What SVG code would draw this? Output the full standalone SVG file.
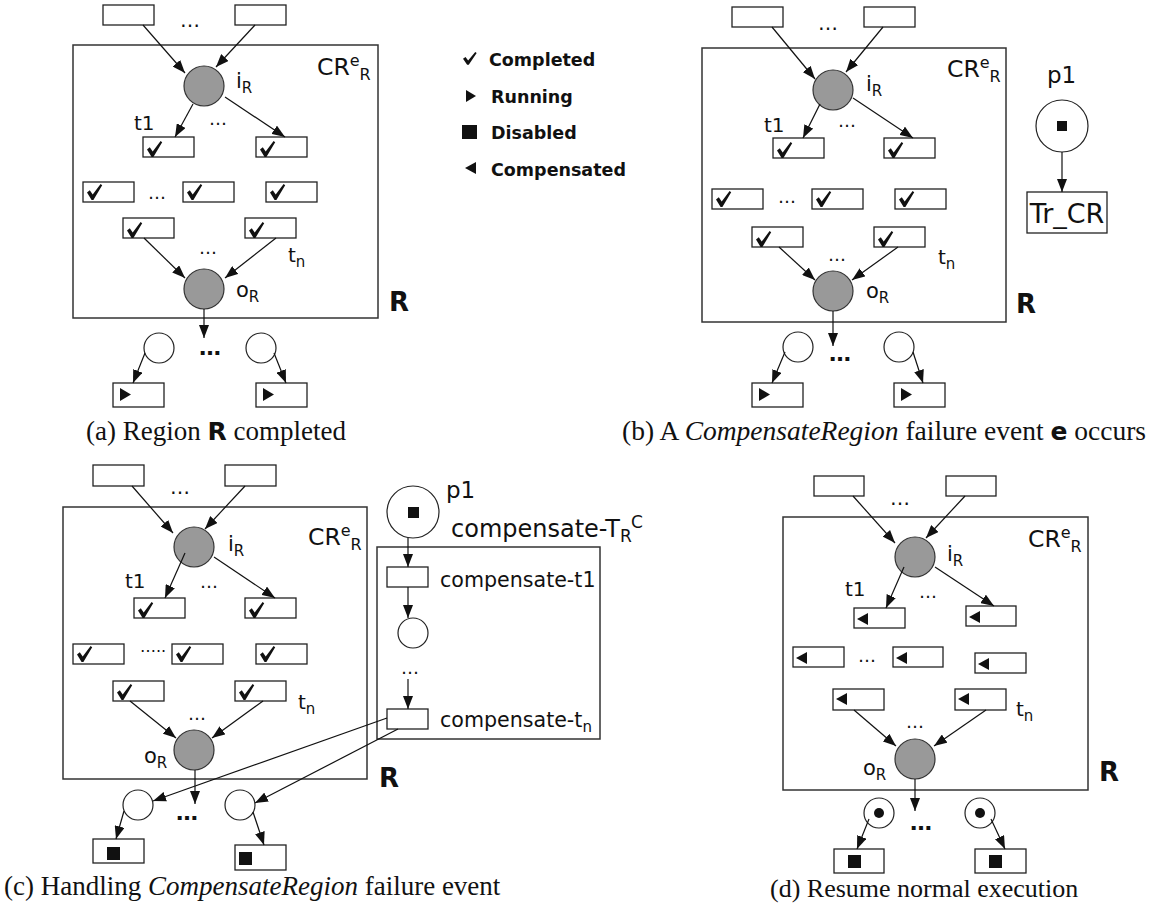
<svg xmlns="http://www.w3.org/2000/svg" xmlns:xlink="http://www.w3.org/1999/xlink" width="1156" height="914" viewBox="0 0 1156 914">
<style>
.bx{fill:#fff;stroke:#222;stroke-width:1.3}
.rg{fill:none;stroke:#333;stroke-width:1.5}
.pl{fill:#fff;stroke:#222;stroke-width:1.2}
.gp{fill:#999;stroke:#333;stroke-width:1.2}
.ar{stroke:#111;stroke-width:1.2;fill:none;marker-end:url(#ah)}
.t{font-family:"DejaVu Sans",Verdana,sans-serif;font-size:20px;fill:#111}
.s{font-size:15px}
.cr{font-size:23.5px}
.crs{font-size:16px}
.lab{font-size:21px}
.dots{font-family:"DejaVu Sans",sans-serif;font-size:20px;fill:#111;text-anchor:middle}
.dm{font-size:18px}
.db{font-size:22px;font-weight:bold}
.big{font-family:"DejaVu Sans",sans-serif;font-size:26px;font-weight:bold;fill:#111}
.lg{font-family:"DejaVu Sans",sans-serif;font-size:17.5px;font-weight:bold;fill:#111}
.cap{font-family:"Liberation Serif","Times New Roman",serif;font-size:27px;fill:#111}
.capb{font-family:"DejaVu Sans",sans-serif;font-weight:bold;font-size:25px}
</style>
<defs>
<marker id="ah" markerUnits="userSpaceOnUse" markerWidth="13" markerHeight="10" refX="13" refY="5" orient="auto">
<path d="M0,0 L13,5 L0,10 Z" fill="#111"/>
</marker>
<path id="chk" d="M0,8.5 L2.8,6.3 L5.7,10.6 L13.6,0 L15.2,1.3 L6.4,16 L4.6,16 Z" fill="#111"/>
<path id="run" d="M0,0 L11,6.5 L0,13 Z" fill="#111"/>
<path id="cmp" d="M0,6 L11,0 L11,12 Z" fill="#111"/>
<rect id="dis" width="13" height="13" fill="#111"/>
</defs>

<!-- Legend -->
<g id="legend">
<use xlink:href="#chk" transform="translate(463,52) scale(0.9,0.8)"/>
<text class="lg" x="489" y="66">Completed</text>
<path d="M466,90 L476,96 L466,102 Z" fill="#111"/>
<text class="lg" x="491" y="103">Running</text>
<rect x="462" y="125" width="15" height="14" fill="#111"/>
<text class="lg" x="491" y="139">Disabled</text>
<path d="M465,168 L476,162 L476,174 Z" fill="#111"/>
<text class="lg" x="491" y="176">Compensated</text>
</g>

<!-- ============ Panel (a) ============ -->
<g id="panel-a">
<g id="a-region"><rect class="rg" x="73" y="45" width="305" height="273"/>
<text class="t cr" x="317" y="75">CR<tspan class="crs" dy="-9">e</tspan><tspan class="crs" dy="14">R</tspan></text>
<text class="big" x="389" y="311">R</text></g>
<g id="a-in1"><rect class="bx" x="103" y="5" width="51" height="20"/></g>
<g id="a-in2"><rect class="bx" x="235" y="5" width="51" height="20"/></g>
<text class="dots" x="190" y="27">…</text>
<g id="a-iR"><circle class="gp" cx="204" cy="86" r="20"/><text class="t lab" x="236" y="88">i<tspan class="s" dy="5">R</tspan></text></g>
<text class="t" x="134" y="130">t1</text>
<text class="dots dm" x="218" y="125">…</text>
<g id="a-t1"><rect class="bx" x="143" y="137" width="51" height="20"/><use xlink:href="#chk" x="147" y="141"/></g>
<g id="a-t2"><rect class="bx" x="256" y="137" width="51" height="20"/><use xlink:href="#chk" x="260" y="141"/></g>
<g id="a-t3"><rect class="bx" x="83" y="182" width="51" height="20"/><use xlink:href="#chk" x="87" y="184"/></g>
<text class="dots dm" x="157" y="199">…</text>
<g id="a-t4"><rect class="bx" x="183" y="182" width="51" height="20"/><use xlink:href="#chk" x="187" y="184"/></g>
<g id="a-t5"><rect class="bx" x="266" y="182" width="51" height="20"/><use xlink:href="#chk" x="270" y="184"/></g>
<g id="a-t6"><rect class="bx" x="123" y="218" width="51" height="20"/><use xlink:href="#chk" x="127" y="222"/></g>
<g id="a-tn"><rect class="bx" x="245" y="218" width="51" height="20"/><use xlink:href="#chk" x="249" y="222"/></g>
<text class="dots dm" x="208" y="254">…</text>
<text class="t" x="288" y="262">t<tspan class="s" dy="5">n</tspan></text>
<g id="a-oR"><circle class="gp" cx="204" cy="289" r="20"/><text class="t lab" x="236" y="297">o<tspan class="s" dy="5">R</tspan></text></g>
<g id="a-p1"><circle class="pl" cx="159" cy="348" r="15"/></g>
<g id="a-p2"><circle class="pl" cx="261" cy="348" r="15"/></g>
<text class="dots db" x="210" y="355">…</text>
<g id="a-o1"><rect class="bx" x="113" y="383" width="51" height="24"/><use xlink:href="#run" x="120" y="388"/></g>
<g id="a-o2"><rect class="bx" x="256" y="383" width="51" height="24"/><use xlink:href="#run" x="263" y="388"/></g>
<text class="cap" x="86" y="440">(a) Region <tspan class="capb">R</tspan> completed</text>
</g>

<!-- ============ Panel (b) ============ -->
<g id="panel-b">
<g id="b-region"><rect class="rg" x="702" y="48" width="304" height="274"/>
<text class="t cr" x="947" y="77">CR<tspan class="crs" dy="-9">e</tspan><tspan class="crs" dy="14">R</tspan></text>
<text class="big" x="1016" y="313">R</text></g>
<g id="b-in1"><rect class="bx" x="732" y="7" width="51" height="20"/></g>
<g id="b-in2"><rect class="bx" x="864" y="7" width="51" height="20"/></g>
<text class="dots" x="828" y="30">…</text>
<g id="b-iR"><circle class="gp" cx="833" cy="90" r="20"/><text class="t lab" x="866" y="91">i<tspan class="s" dy="5">R</tspan></text></g>
<text class="t" x="764" y="132">t1</text>
<text class="dots dm" x="847" y="127">…</text>
<g id="b-t1"><rect class="bx" x="773" y="138" width="51" height="20"/><use xlink:href="#chk" x="777" y="142"/></g>
<g id="b-t2"><rect class="bx" x="884" y="138" width="51" height="20"/><use xlink:href="#chk" x="888" y="142"/></g>
<g id="b-t3"><rect class="bx" x="712" y="189" width="51" height="20"/><use xlink:href="#chk" x="716" y="191"/></g>
<text class="dots dm" x="787" y="203">…</text>
<g id="b-t4"><rect class="bx" x="812" y="189" width="51" height="20"/><use xlink:href="#chk" x="816" y="191"/></g>
<g id="b-t5"><rect class="bx" x="895" y="189" width="51" height="20"/><use xlink:href="#chk" x="899" y="191"/></g>
<g id="b-t6"><rect class="bx" x="752" y="227" width="51" height="20"/><use xlink:href="#chk" x="756" y="231"/></g>
<g id="b-tn"><rect class="bx" x="874" y="227" width="51" height="20"/><use xlink:href="#chk" x="878" y="231"/></g>
<text class="dots dm" x="837" y="261">…</text>
<text class="t" x="938" y="264">t<tspan class="s" dy="5">n</tspan></text>
<g id="b-oR"><circle class="gp" cx="833" cy="291" r="20"/><text class="t lab" x="866" y="298">o<tspan class="s" dy="5">R</tspan></text></g>
<g id="b-p1"><circle class="pl" cx="798" cy="347" r="15"/></g>
<g id="b-p2"><circle class="pl" cx="899" cy="347" r="15"/></g>
<text class="dots db" x="840" y="361">…</text>
<g id="b-o1"><rect class="bx" x="752" y="383" width="51" height="24"/><use xlink:href="#run" x="759" y="388"/></g>
<g id="b-o2"><rect class="bx" x="894" y="383" width="51" height="24"/><use xlink:href="#run" x="901" y="388"/></g>
<g id="b-pp1"><text class="t" x="1047" y="83" style="font-size:23px">p1</text><circle class="pl" cx="1062" cy="126" r="26"/><rect x="1057" y="121" width="10" height="10" fill="#111"/></g>
<g id="b-trcr"><rect class="bx" x="1027" y="192" width="80" height="41"/><text class="t" x="1067" y="223" style="font-size:27px" text-anchor="middle">Tr_CR</text></g>
<text class="cap" x="622" y="440" style="font-size:27.5px">(b) A <tspan font-style="italic">CompensateRegion</tspan> failure event <tspan class="capb">e</tspan> occurs</text>
</g>

<!-- ============ Panel (c) ============ -->
<g id="panel-c">
<g id="c-region"><rect class="rg" x="63" y="507" width="304" height="272"/>
<text class="t cr" x="308" y="545">CR<tspan class="crs" dy="-9">e</tspan><tspan class="crs" dy="14">R</tspan></text>
<text class="big" x="379" y="787">R</text></g>
<g id="c-in1"><rect class="bx" x="93" y="465" width="51" height="21"/></g>
<g id="c-in2"><rect class="bx" x="225" y="465" width="51" height="21"/></g>
<text class="dots" x="180" y="494">…</text>
<g id="c-iR"><circle class="gp" cx="194" cy="547" r="20"/><text class="t lab" x="228" y="551">i<tspan class="s" dy="5">R</tspan></text></g>
<text class="t" x="125" y="588">t1</text>
<text class="dots dm" x="209" y="588">…</text>
<g id="c-t1"><rect class="bx" x="134" y="598" width="51" height="20"/><use xlink:href="#chk" x="138" y="602"/></g>
<g id="c-t2"><rect class="bx" x="245" y="598" width="51" height="20"/><use xlink:href="#chk" x="249" y="602"/></g>
<g id="c-t3"><rect class="bx" x="73" y="644" width="51" height="20"/><use xlink:href="#chk" x="77" y="646"/></g>
<text class="dots" x="153" y="652" style="font-size:16px">…..</text>
<g id="c-t4"><rect class="bx" x="172" y="644" width="51" height="20"/><use xlink:href="#chk" x="176" y="646"/></g>
<g id="c-t5"><rect class="bx" x="256" y="644" width="51" height="20"/><use xlink:href="#chk" x="260" y="646"/></g>
<g id="c-t6"><rect class="bx" x="113" y="681" width="51" height="20"/><use xlink:href="#chk" x="117" y="684"/></g>
<g id="c-tn"><rect class="bx" x="235" y="681" width="51" height="20"/><use xlink:href="#chk" x="239" y="684"/></g>
<text class="dots dm" x="197" y="720">…</text>
<text class="t" x="298" y="709">t<tspan class="s" dy="5">n</tspan></text>
<g id="c-oR"><circle class="gp" cx="194" cy="750" r="20"/><text class="t lab" x="144" y="763">o<tspan class="s" dy="5">R</tspan></text></g>
<g id="c-p1"><circle class="pl" cx="138" cy="805" r="15"/></g>
<g id="c-p2"><circle class="pl" cx="240" cy="805" r="15"/></g>
<text class="dots db" x="187" y="820">…</text>
<g id="c-o1"><rect class="bx" x="93" y="839" width="51" height="24"/><use xlink:href="#dis" x="107" y="847"/></g>
<g id="c-o2"><rect class="bx" x="235" y="845" width="51" height="25"/><use xlink:href="#dis" x="239" y="852"/></g>
<g id="c-pp1"><text class="t" x="446" y="498" style="font-size:23px">p1</text><circle class="pl" cx="413" cy="512" r="26"/><rect x="408" y="507" width="11" height="11" fill="#111"/></g>
<g id="c-comp"><rect class="rg" x="377" y="547" width="223" height="192"/>
<text class="t" x="451" y="537" style="font-size:24px">compensate-T<tspan style="font-size:17px" dy="5">R</tspan><tspan style="font-size:17px" dy="-14">C</tspan></text></g>
<g id="c-ct1"><rect class="bx" x="387" y="567" width="41" height="20"/><text class="t" x="440" y="587" style="font-size:20.6px">compensate-t1</text></g>
<g id="c-cp"><circle class="pl" cx="413" cy="633" r="15"/></g>
<text class="dots dm" x="410" y="674">…</text>
<g id="c-ctn"><rect class="bx" x="387" y="709" width="41" height="20"/><text class="t" x="440" y="727" style="font-size:20.6px">compensate-t<tspan class="s" dy="5">n</tspan></text></g>
<text class="cap" x="4" y="895">(c) Handling <tspan font-style="italic">CompensateRegion</tspan> failure event</text>
</g>

<!-- ============ Panel (d) ============ -->
<g id="panel-d">
<g id="d-region"><rect class="rg" x="783" y="517" width="305" height="273"/>
<text class="t cr" x="1028" y="547">CR<tspan class="crs" dy="-9">e</tspan><tspan class="crs" dy="14">R</tspan></text>
<text class="big" x="1099" y="781">R</text></g>
<g id="d-in1"><rect class="bx" x="814" y="476" width="50" height="20"/></g>
<g id="d-in2"><rect class="bx" x="946" y="476" width="50" height="20"/></g>
<text class="dots" x="900" y="505">…</text>
<g id="d-iR"><circle class="gp" cx="915" cy="557" r="20"/><text class="t lab" x="947" y="561">i<tspan class="s" dy="5">R</tspan></text></g>
<text class="t" x="845" y="596">t1</text>
<text class="dots dm" x="928" y="598">…</text>
<g id="d-t1"><rect class="bx" x="854" y="608" width="51" height="20"/><use xlink:href="#cmp" x="857" y="613"/></g>
<g id="d-t2"><rect class="bx" x="966" y="606" width="50" height="20"/><use xlink:href="#cmp" x="969" y="611"/></g>
<g id="d-t3"><rect class="bx" x="793" y="647" width="51" height="20"/><use xlink:href="#cmp" x="796" y="652"/></g>
<text class="dots dm" x="867" y="662">…</text>
<g id="d-t4"><rect class="bx" x="893" y="647" width="50" height="20"/><use xlink:href="#cmp" x="896" y="652"/></g>
<g id="d-t5"><rect class="bx" x="975" y="653" width="51" height="20"/><use xlink:href="#cmp" x="978" y="658"/></g>
<g id="d-t6"><rect class="bx" x="833" y="689" width="51" height="21"/><use xlink:href="#cmp" x="836" y="693"/></g>
<g id="d-tn"><rect class="bx" x="955" y="689" width="51" height="21"/><use xlink:href="#cmp" x="958" y="693"/></g>
<text class="dots dm" x="915" y="728">…</text>
<text class="t" x="1016" y="716">t<tspan class="s" dy="5">n</tspan></text>
<g id="d-oR"><circle class="gp" cx="915" cy="759" r="20"/><text class="t lab" x="863" y="775">o<tspan class="s" dy="5">R</tspan></text></g>
<g id="d-p1"><circle class="pl" cx="879" cy="813" r="15"/><circle cx="879" cy="813" r="5" fill="#111"/></g>
<g id="d-p2"><circle class="pl" cx="980" cy="813" r="15"/><circle cx="980" cy="813" r="5" fill="#111"/></g>
<text class="dots db" x="921" y="830">…</text>
<g id="d-o1"><rect class="bx" x="834" y="849" width="50" height="24"/><use xlink:href="#dis" x="848" y="855"/></g>
<g id="d-o2"><rect class="bx" x="975" y="849" width="51" height="24"/><use xlink:href="#dis" x="989" y="855"/></g>
<text class="cap" x="770" y="897" style="font-size:26px">(d) Resume normal execution</text>
</g>

<!-- ============ Connectors ============ -->
<g id="connectors">
<!-- a -->
<line class="ar" x1="143" y1="25" x2="185" y2="73"/>
<line class="ar" x1="255" y1="25" x2="216" y2="67"/>
<line class="ar" x1="193" y1="104" x2="175" y2="137"/>
<line class="ar" x1="225" y1="97" x2="285" y2="137"/>
<line class="ar" x1="144" y1="238" x2="185" y2="278"/>
<line class="ar" x1="276" y1="238" x2="225" y2="278"/>
<line class="ar" x1="204" y1="309" x2="204" y2="338"/>
<line class="ar" x1="145" y1="353" x2="133" y2="383"/>
<line class="ar" x1="274" y1="353" x2="286" y2="383"/>
<!-- b -->
<line class="ar" x1="772" y1="27" x2="815" y2="79"/>
<line class="ar" x1="883" y1="27" x2="846" y2="72"/>
<line class="ar" x1="820" y1="104" x2="803" y2="138"/>
<line class="ar" x1="853" y1="98" x2="913" y2="138"/>
<line class="ar" x1="779" y1="247" x2="815" y2="280"/>
<line class="ar" x1="898" y1="247" x2="852" y2="280"/>
<line class="ar" x1="833" y1="311" x2="833" y2="346"/>
<line class="ar" x1="785" y1="352" x2="772" y2="383"/>
<line class="ar" x1="913" y1="352" x2="923" y2="383"/>
<line class="ar" x1="1062" y1="152" x2="1062" y2="192"/>
<!-- c -->
<line class="ar" x1="132" y1="486" x2="173" y2="533"/>
<line class="ar" x1="245" y1="486" x2="205" y2="529"/>
<line class="ar" x1="185" y1="553" x2="165" y2="598"/>
<line class="ar" x1="214" y1="557" x2="275" y2="598"/>
<line class="ar" x1="130" y1="701" x2="176" y2="738"/>
<line class="ar" x1="263" y1="701" x2="212" y2="738"/>
<line class="ar" x1="195" y1="770" x2="195" y2="804"/>
<line class="ar" x1="124" y1="811" x2="116" y2="839"/>
<line class="ar" x1="253" y1="812" x2="264" y2="845"/>
<line class="ar" x1="387" y1="718" x2="153" y2="801"/>
<line class="ar" x1="398" y1="729" x2="255" y2="803"/>
<line class="ar" x1="408" y1="538" x2="408" y2="567"/>
<line class="ar" x1="408" y1="587" x2="408" y2="618"/>
<line class="ar" x1="408" y1="679" x2="408" y2="709"/>
<!-- d -->
<line class="ar" x1="853" y1="496" x2="895" y2="543"/>
<line class="ar" x1="965" y1="496" x2="926" y2="538"/>
<line class="ar" x1="904" y1="567" x2="886" y2="608"/>
<line class="ar" x1="935" y1="567" x2="994" y2="606"/>
<line class="ar" x1="854" y1="710" x2="896" y2="746"/>
<line class="ar" x1="986" y1="710" x2="934" y2="746"/>
<line class="ar" x1="915" y1="779" x2="915" y2="811"/>
<line class="ar" x1="869" y1="819" x2="857" y2="849"/>
<line class="ar" x1="991" y1="819" x2="1005" y2="849"/>
</g>
</svg>
